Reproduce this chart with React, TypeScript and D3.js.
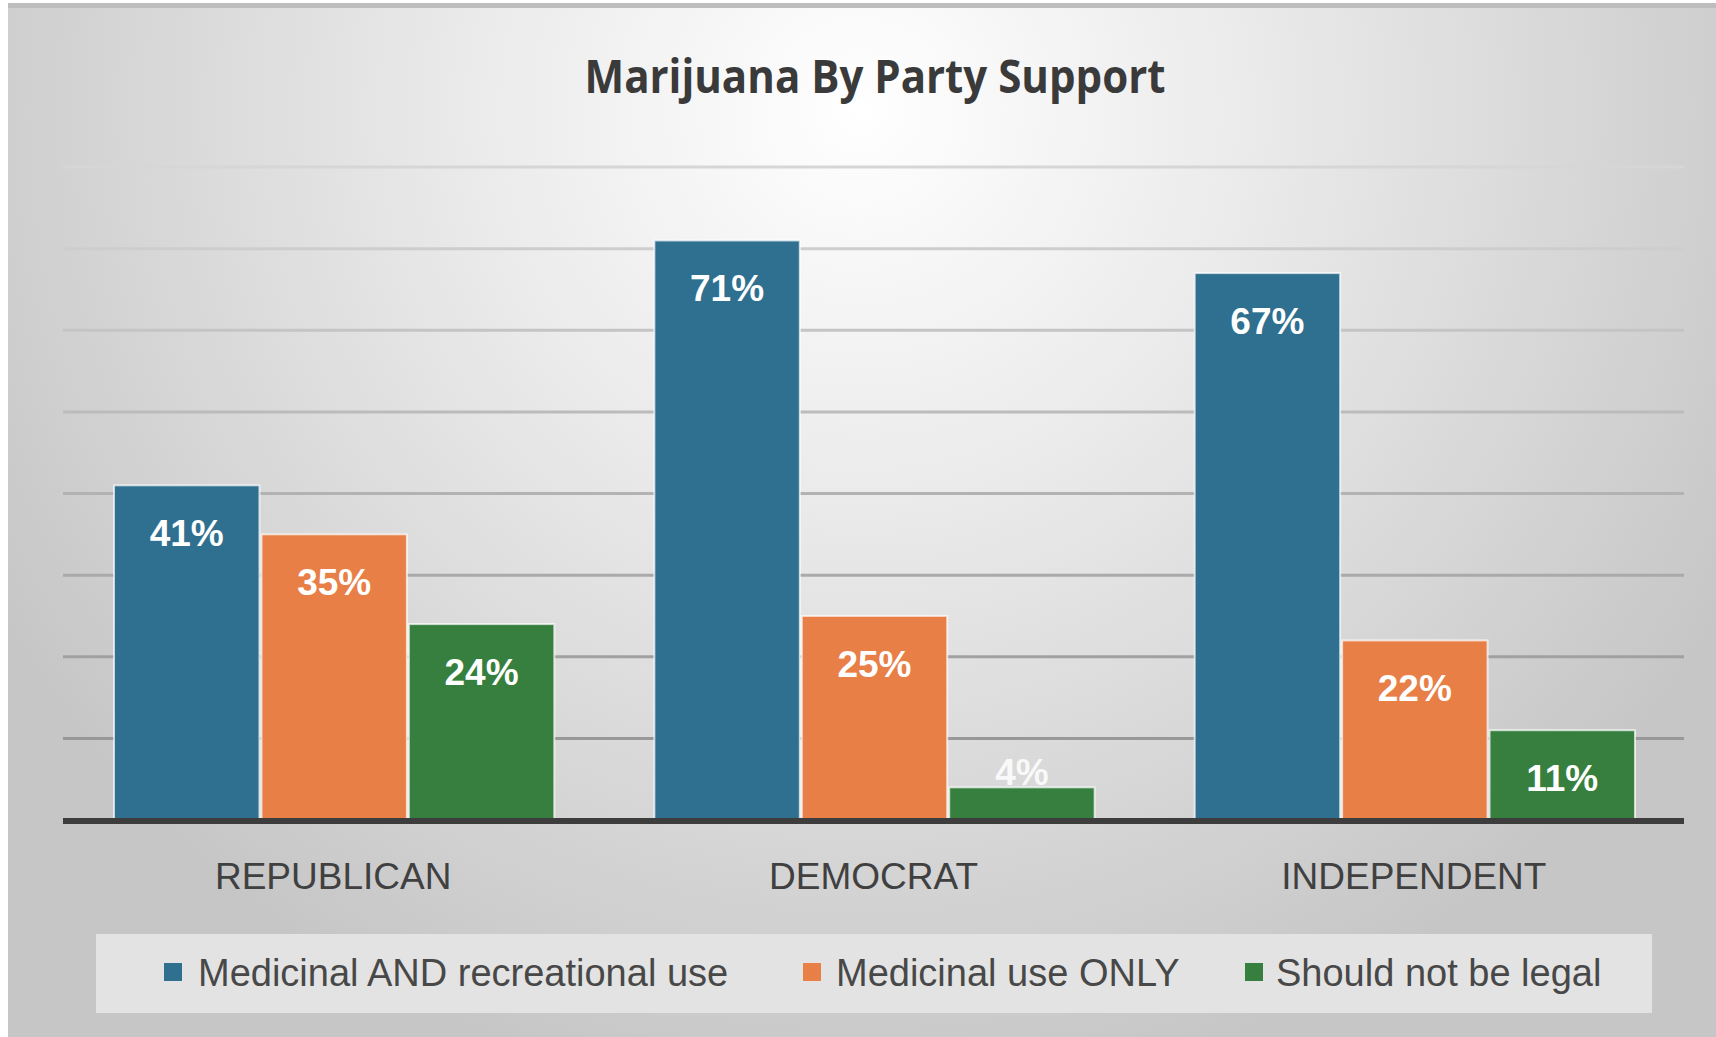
import React from "react";
import * as d3 from "d3";

const categories = ["REPUBLICAN", "DEMOCRAT", "INDEPENDENT"];
const seriesNames = ["Medicinal AND recreational use", "Medicinal use ONLY", "Should not be legal"];
const medicinalAndRecreational = [41, 71, 67];
const medicinalOnly = [35, 25, 22];
const notLegal = [24, 4, 11];
const yTicks = [0, 10, 20, 30, 40, 50, 60, 70, 80];
const title = "Marijuana By Party Support";

const colors = ["#2F6F8F", "#E77F47", "#367F3E"];

const W = 1716;
const H = 1037;
const plotLeft = 63;
const plotRight = 1684;
const plotTop = 167;
const plotBottom = 820;

export default function App() {
  const seriesValues = [medicinalAndRecreational, medicinalOnly, notLegal];
  const x0 = d3.scaleBand<string>().domain(categories).range([plotLeft, plotRight]).padding(0);
  const bw = x0.bandwidth();
  const x1 = d3
    .scaleBand<string>()
    .domain(seriesNames)
    .range([bw * (50 / 540), bw * (492 / 540)]);
  const y = d3.scaleLinear().domain([0, 80]).range([plotBottom, plotTop]);

  const legendItems = [
    { name: seriesNames[0], mx: 164, tx: 198 },
    { name: seriesNames[1], mx: 803, tx: 836 },
    { name: seriesNames[2], mx: 1245, tx: 1276 },
  ];

  return (
    <svg
      width={W}
      height={H}
      style={{ position: "absolute", left: 0, top: 0, display: "block" }}
    >
      <defs>
        <radialGradient id="bg" gradientUnits="userSpaceOnUse" cx={860} cy={110} r={1000}>
          <stop offset="0" stopColor="#ffffff" />
          <stop offset="0.4" stopColor="#eaeaea" />
          <stop offset="1" stopColor="#c6c6c6" />
        </radialGradient>
        <linearGradient id="grid" gradientUnits="userSpaceOnUse" x1={0} y1={plotTop} x2={0} y2={plotBottom}>
          <stop offset="0" stopColor="#d6d6d6" />
          <stop offset="1" stopColor="#8f8f8f" />
        </linearGradient>
      </defs>
      <rect x={0} y={0} width={W} height={H} fill="#ffffff" />
      <rect x={8} y={3} width={W - 8} height={H - 3} fill="url(#bg)" />
      <rect x={8} y={3} width={W - 8} height={5} fill="#bdbdbd" />

      <text
        x={875}
        y={93}
        textAnchor="middle"
        fontFamily="'Open Sans', sans-serif"
        fontWeight={700}
        fontSize={47}
        fill="#3a3a3a"
        textLength={581}
        lengthAdjust="spacingAndGlyphs"
      >
        {title}
      </text>

      {yTicks
        .filter((t) => t > 0)
        .map((t) => (
          <line
            key={t}
            x1={plotLeft}
            x2={plotRight}
            y1={y(t)}
            y2={y(t)}
            stroke="url(#grid)"
            strokeWidth={3}
          />
        ))}

      {categories.map((c, ci) => (
        <g key={c} transform={`translate(${x0(c)},0)`}>
          {seriesNames.map((s, si) => {
            const v = seriesValues[si][ci];
            const top = y(v);
            const h = plotBottom - top;
            const bx = (x1(s) as number) + 1;
            const w = x1.bandwidth() - 2;
            const ly = h > 60 ? top + 61 : top - 2;
            return (
              <g key={s}>
                <rect
                  x={bx}
                  y={top}
                  width={w}
                  height={h}
                  fill={colors[si]}
                  stroke="#ffffff"
                  strokeOpacity={0.7}
                  strokeWidth={2}
                />
                <text
                  x={bx + w / 2}
                  y={ly}
                  textAnchor="middle"
                  fontFamily="'Liberation Sans', Arial, sans-serif"
                  fontWeight={700}
                  fontSize={37}
                  fill="#ffffff"
                  fillOpacity={h > 60 ? 1 : 0.85}
                >
                  {v}%
                </text>
              </g>
            );
          })}
          <text
            x={bw / 2}
            y={889}
            textAnchor="middle"
            fontFamily="'Liberation Sans', Arial, sans-serif"
            fontSize={37}
            fill="#404040"
          >
            {c}
          </text>
        </g>
      ))}

      <line x1={plotLeft} x2={plotRight} y1={plotBottom + 1} y2={plotBottom + 1} stroke="#3d3d3d" strokeWidth={6} />

      <rect x={96} y={934} width={1556} height={79} fill="#e3e3e3" />
      {legendItems.map((it, i) => (
        <g key={it.name}>
          <rect x={it.mx} y={963} width={18} height={18} fill={colors[i]} />
          <text
            x={it.tx}
            y={986}
            fontFamily="'Liberation Sans', Arial, sans-serif"
            fontSize={38}
            fill="#484848"
          >
            {it.name}
          </text>
        </g>
      ))}
    </svg>
  );
}
